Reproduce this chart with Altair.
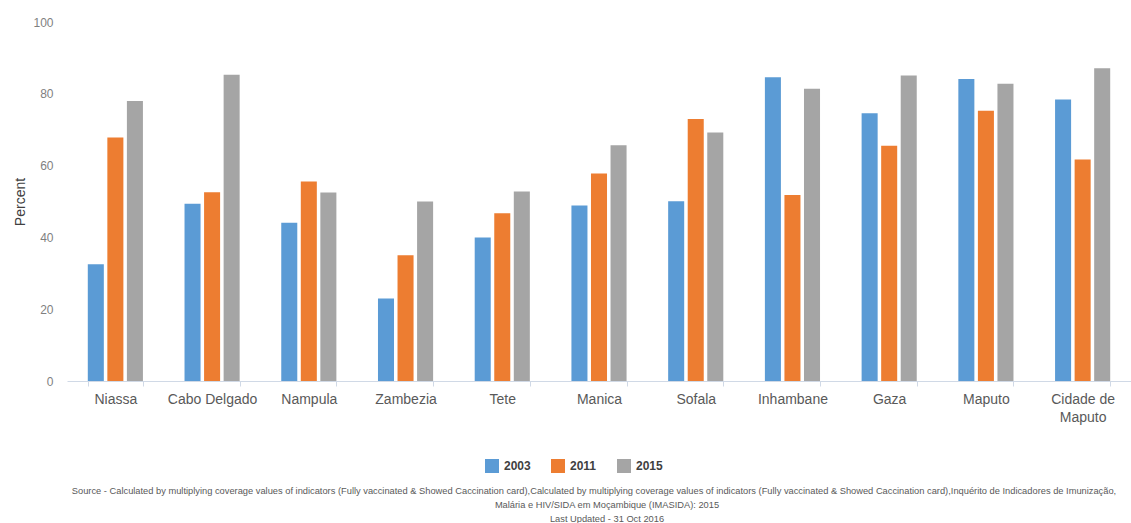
import altair as alt
import pandas as pd

regions = ["Niassa", "Cabo Delgado", "Nampula", "Zambezia", "Tete", "Manica",
           "Sofala", "Inhambane", "Gaza", "Maputo", "Cidade de Maputo"]
years = ["2003", "2011", "2015"]
v2003 = [32.5, 49.4, 44.1, 23.0, 40.0, 48.9, 50.1, 84.6, 74.6, 84.1, 78.4]
v2011 = [67.8, 52.6, 55.6, 35.0, 46.7, 57.8, 73.0, 51.8, 65.5, 75.3, 61.7]
v2015 = [78.0, 85.3, 52.5, 50.0, 52.8, 65.7, 69.2, 81.4, 85.1, 82.8, 87.1]
colors = ["#5B9BD5", "#ED7D31", "#A5A5A5"]
source_lines = [
    "Source - Calculated by multiplying coverage values of indicators (Fully vaccinated & Showed Caccination card),Calculated by multiplying coverage values of indicators (Fully vaccinated & Showed Caccination card),Inquérito de Indicadores de Imunização,",
    "Malária e HIV/SIDA em Moçambique (IMASIDA): 2015",
    "Last Updated - 31 Oct 2016",
]
source_x = [527, 540, 540]

rows = []
for i, r in enumerate(regions):
    for y, vals in zip(years, [v2003, v2011, v2015]):
        rows.append({"Region": r, "Year": y, "Percent": vals[i]})
df = pd.DataFrame(rows)

W, H = 1064, 359

bars = alt.Chart(df).mark_bar().encode(
    x=alt.X("Region:N", sort=regions,
            scale=alt.Scale(paddingInner=0.43, paddingOuter=0.215),
            axis=alt.Axis(title=None, labelAngle=0, labelFontSize=14, labelColor="#595959",
                          labelFont="Liberation Sans", domainColor="#D0D9E6", tickColor="#D0D9E6",
                          tickBand="extent", tickSize=5, labelPadding=6, labelLineHeight=18,
                          labelExpr="datum.label == 'Cidade de Maputo' ? ['Cidade de', 'Maputo'] : datum.label")),
    xOffset=alt.XOffset("Year:N", sort=years, scale=alt.Scale(paddingInner=0.18, paddingOuter=0)),
    y=alt.Y("Percent:Q", scale=alt.Scale(domain=[0, 100], nice=False),
            axis=alt.Axis(values=[0, 20, 40, 60, 80, 100], grid=False, domain=False, ticks=False,
                          labelFontSize=12, labelColor="#7F7F7F", labelFont="Liberation Sans",
                          labelPadding=14, title="Percent", titleFontSize=14, titleColor="#404040",
                          titleFont="Liberation Sans", titleFontWeight="normal", titlePadding=5)),
    color=alt.Color("Year:N", sort=years, scale=alt.Scale(domain=years, range=colors),
                    legend=alt.Legend(title=None, orient="none", direction="horizontal",
                                      legendX=418, legendY=437, symbolType="square", symbolSize=196,
                                      symbolStrokeWidth=0, labelFontSize=12, labelFontWeight="bold",
                                      labelColor="#404040", labelFont="Liberation Sans",
                                      columnPadding=20, labelOffset=5)),
)

src = pd.DataFrame({"line": source_lines, "idx": [0, 1, 2], "px": source_x})
src["y"] = 469 + src["idx"] * 14
text = alt.Chart(src).mark_text(fontSize=9.3, color="#595959", font="Liberation Sans",
                                align="center", baseline="middle").encode(
    x=alt.X("px:Q", scale=None),
    y=alt.Y("y:Q", scale=None),
    text="line:N",
)

chart = alt.layer(bars, text).properties(
    width=W, height=H,
    autosize=alt.AutoSizeParams(type="none"),
    padding={"left": 67, "top": 22, "right": 0, "bottom": 142},
).configure_view(stroke=None)

chart.save("out.html", embed_options={"renderer": "svg", "actions": False})
